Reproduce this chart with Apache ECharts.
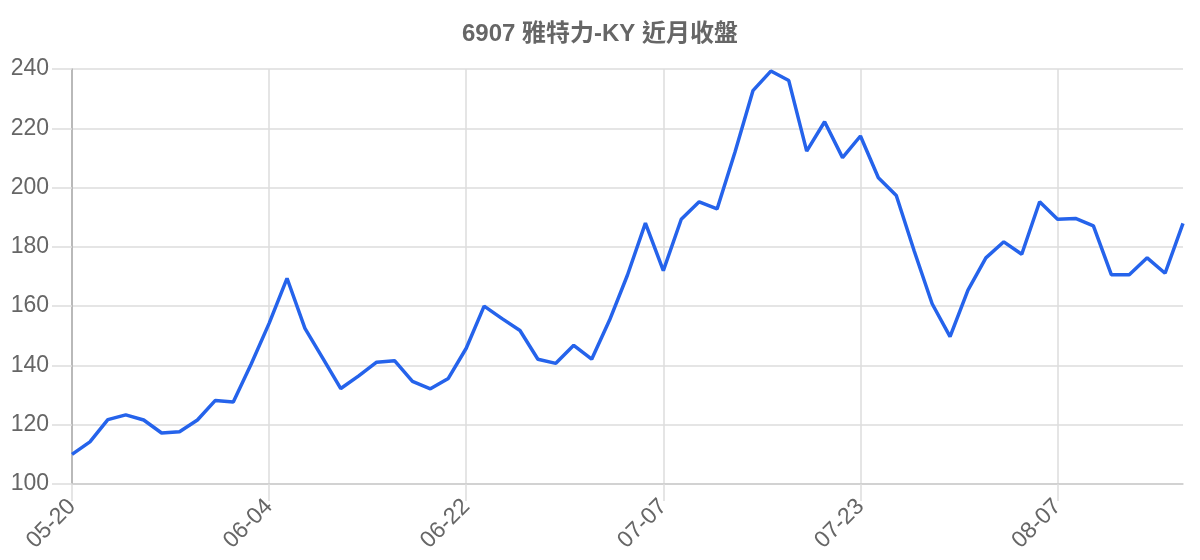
<!DOCTYPE html>
<html>
<head>
<meta charset="utf-8">
<title>6907 雅特力-KY 近月收盤</title>
<script src="https://cdn.jsdelivr.net/npm/echarts@6/dist/echarts.min.js"></script>
<style>
    html, body { margin: 0; padding: 0; background: #fff; }
    #chart { width: 1200px; height: 560px; }
</style>
</head>
<body>
<div id="chart"></div>
<script>
const chartTitle = '6907 雅特力-KY 近月收盤';

const dates = [
    '05-20', '05-21', '05-22', '05-23', '05-24', '05-27', '05-28', '05-29', '05-30', '05-31', '06-03', '06-04',
    '06-05', '06-06', '06-07', '06-11', '06-12', '06-13', '06-14', '06-17', '06-18', '06-19', '06-22',
    '06-24', '06-25', '06-26', '06-27', '06-28', '07-01', '07-02', '07-03', '07-04', '07-05', '07-07',
    '07-08', '07-09', '07-10', '07-11', '07-12', '07-15', '07-16', '07-17', '07-18', '07-19', '07-23',
    '07-24', '07-25', '07-26', '07-29', '07-30', '07-31', '08-01', '08-02', '08-05', '08-06', '08-07',
    '08-08', '08-09', '08-12', '08-13', '08-14', '08-15', '08-16'
];

const closePrices = [
    110, 114.2, 121.7, 123.3, 121.6, 117.2, 117.6, 121.6, 128.2, 127.7, 140.5, 154.2,
    169.4, 152.5, 142.4, 132.2, 136.5, 141.1, 141.6, 134.6, 132.1, 135.6, 145.8,
    160, 155.8, 151.8, 142.1, 140.7, 146.8, 142.1, 155.3, 170.5, 188, 172,
    189.3, 195.2, 192.8, 212, 232.7, 239.3, 236.1, 212.3, 222.2, 210.1, 217.4,
    203.3, 197.3, 178.6, 160.8, 149.7, 165.4, 176.3, 181.7, 177.5, 195.2, 189.3,
    189.6, 187.1, 170.6, 170.6, 176.3, 171.1, 187.9
];

const yTicks = { min: 100, max: 240, step: 20 };

const getXAxisOpt = () => ({
    type: 'category',
    data: dates,
    boundaryGap: false,
    axisLine: { show: true, lineStyle: { color: '#cccccc', width: 1.5 } },
    axisTick: { show: true, interval: 10, length: 17, lineStyle: { color: '#dddddd', width: 1.5 } },
    axisLabel: {
        interval: 10,
        rotate: 45,
        fontSize: 23,
        color: '#666666',
        fontFamily: 'Liberation Sans',
        margin: 19
    },
    splitLine: { show: true, interval: 10, lineStyle: { color: '#dddddd', width: 1.5 } }
});

const getYAxisOpt = () => ({
    type: 'value',
    min: yTicks.min,
    max: yTicks.max,
    interval: yTicks.step,
    axisLine: { show: true, lineStyle: { color: '#aaaaaa', width: 1.5 } },
    axisTick: { show: true, length: 20, lineStyle: { color: '#dddddd', width: 1.5 } },
    axisLabel: {
        fontSize: 23,
        color: '#666666',
        fontFamily: 'Liberation Sans',
        margin: 23
    },
    splitLine: { show: true, lineStyle: { color: '#dddddd', width: 1.5 } }
});

const option = {
    backgroundColor: '#ffffff',
    animation: false,
    title: {
        text: chartTitle,
        left: 'center',
        top: 17,
        textStyle: {
            fontSize: 24,
            fontWeight: 'bold',
            color: '#666666',
            fontFamily: 'Liberation Sans, Noto Sans CJK TC'
        }
    },
    grid: { left: 72, right: 17, top: 69, bottom: 76 },
    xAxis: getXAxisOpt(),
    yAxis: getYAxisOpt(),
    series: [{
        type: 'line',
        data: closePrices,
        color: '#2563eb',
        lineStyle: { width: 3.5 },
        showSymbol: false,
        smooth: false
    }]
};

const myChart = echarts.init(document.getElementById('chart'));
myChart.setOption(option);
</script>
</body>
</html>
